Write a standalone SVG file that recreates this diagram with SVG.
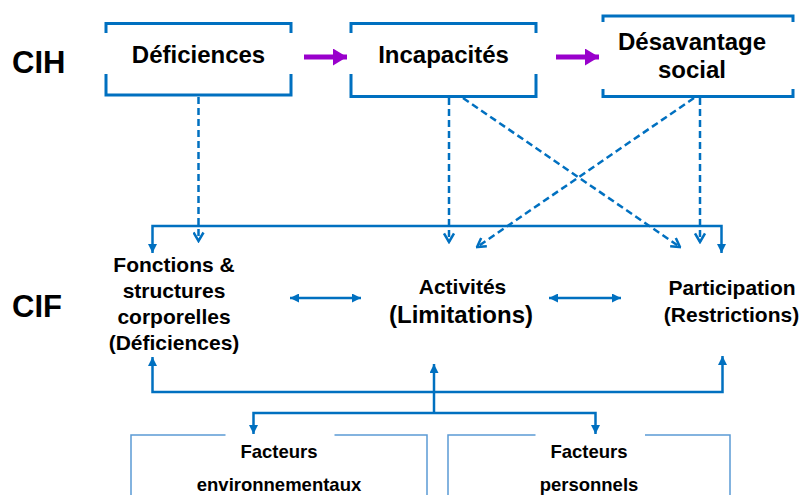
<svg xmlns="http://www.w3.org/2000/svg" width="804" height="495" viewBox="0 0 804 495">
  <style>
    text { font-family: "Liberation Sans", Arial, sans-serif; font-weight: bold; fill: #000; }
    .big { font-size: 31px; }
    .top { font-size: 24px; text-anchor: middle; }
    .mid { font-size: 21px; text-anchor: middle; }
    .lim { font-size: 24px; text-anchor: middle; }
    .fac { font-size: 18.5px; text-anchor: middle; }
    .box { fill: none; stroke: #0070C0; stroke-width: 3; }
    .fbox { fill: none; stroke: #5B9BD5; stroke-width: 1.5; }
    .solid { fill: none; stroke: #0070C0; stroke-width: 2.5; }
    .dash { fill: none; stroke: #0070C0; stroke-width: 2.5; stroke-dasharray: 7 4; }
    .purple { fill: none; stroke: #9900CC; stroke-width: 5; }
  </style>
  <defs>
    <marker id="tri" markerUnits="userSpaceOnUse" viewBox="0 0 10 10" refX="10" refY="5" markerWidth="9" markerHeight="9" orient="auto-start-reverse">
      <path d="M0,0 L10,5 L0,10 z" fill="#0070C0"/>
    </marker>
    <marker id="vee" markerUnits="userSpaceOnUse" viewBox="0 0 12 12" refX="10.5" refY="6" markerWidth="12" markerHeight="12" orient="auto">
      <path d="M2,1 L10.5,6 L2,11" fill="none" stroke="#0070C0" stroke-width="2.5"/>
    </marker>
    <marker id="parr" markerUnits="userSpaceOnUse" viewBox="0 0 14 17" refX="14" refY="8.5" markerWidth="14" markerHeight="17" orient="auto">
      <path d="M0,0 L14,8.5 L0,17 z" fill="#9900CC"/>
    </marker>
  </defs>

  <text class="big" x="12" y="73">CIH</text>
  <text class="big" x="12" y="317">CIF</text>

  <g id="deficiences">
    <path class="box" d="M106,33 V23.5 H291 V33 M106,74 V95 H291 V74"/>
    <text class="top" x="198.5" y="63">Déficiences</text>
  </g>
  <g id="incapacites">
    <path class="box" d="M351,33 V23.5 H536 V33 M351,74 V96.5 H536 V74"/>
    <text class="top" x="443.5" y="63">Incapacités</text>
  </g>
  <g id="desavantage">
    <path class="box" d="M603,22 V16 H793 V22 M603,89 V96.5 H793 V89"/>
    <text class="top" x="692" y="50">Désavantage</text>
    <text class="top" x="692" y="78">social</text>
  </g>

  <g id="fonctions">
    <text class="mid" x="174" y="272">Fonctions &amp;</text>
    <text class="mid" x="174" y="298">structures</text>
    <text class="mid" x="174" y="324">corporelles</text>
    <text class="mid" x="174" y="350">(Déficiences)</text>
  </g>
  <g id="activites">
    <text class="mid" x="462.5" y="294">Activités</text>
    <text class="lim" x="461" y="323">(Limitations)</text>
  </g>
  <g id="participation">
    <text class="mid" x="732" y="295">Participation</text>
    <text class="mid" x="731.5" y="322">(Restrictions)</text>
  </g>

  <g id="facteurs-env">
    <path class="fbox" d="M131,495 V435 H225.5 M334.5,435 H427 V495"/>
    <text class="fac" x="279" y="458">Facteurs</text>
    <text class="fac" x="279" y="491">environnementaux</text>
  </g>
  <g id="facteurs-pers">
    <path class="fbox" d="M448,495 V435 H535.5 M645,435 H730 V495"/>
    <text class="fac" x="589" y="458">Facteurs</text>
    <text class="fac" x="589" y="491">personnels</text>
  </g>

  <g id="connectors">
    <line class="purple" x1="304" y1="57" x2="347" y2="57" marker-end="url(#parr)"/>
    <line class="purple" x1="556" y1="57" x2="599" y2="57" marker-end="url(#parr)"/>

    <line class="dash" x1="198.5" y1="97" x2="198.5" y2="241" marker-end="url(#vee)"/>
    <line class="dash" x1="449" y1="98" x2="449" y2="242" marker-end="url(#vee)"/>
    <line class="dash" x1="463" y1="98" x2="680" y2="247" marker-end="url(#vee)"/>
    <line class="dash" x1="694" y1="98" x2="477" y2="247" marker-end="url(#vee)"/>
    <line class="dash" x1="700" y1="98" x2="700" y2="242" marker-end="url(#vee)"/>

    <path class="solid" d="M152.5,253 V226 H721.5 V253" marker-start="url(#tri)" marker-end="url(#tri)"/>

    <line class="solid" x1="290" y1="298" x2="361" y2="298" marker-start="url(#tri)" marker-end="url(#tri)"/>
    <line class="solid" x1="549" y1="298" x2="621" y2="298" marker-start="url(#tri)" marker-end="url(#tri)"/>

    <path class="solid" d="M152.5,357 V392 H722.5 V356" marker-start="url(#tri)" marker-end="url(#tri)"/>
    <line class="solid" x1="434" y1="413" x2="434" y2="364" marker-end="url(#tri)"/>
    <path class="solid" d="M253.5,434 V413 H595.5 V434" marker-start="url(#tri)" marker-end="url(#tri)"/>
  </g>
</svg>
